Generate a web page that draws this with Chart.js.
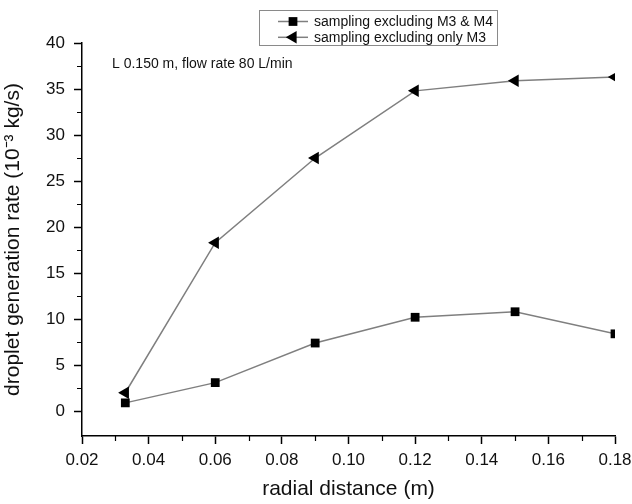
<!DOCTYPE html>
<html lang="en">
<head>
  <meta charset="UTF-8" />
  <title>Droplet generation rate vs radial distance</title>
  <style>
    html, body {
      margin: 0;
      padding: 0;
      background: #fff;
    }
    .chart-box {
      position: relative;
      width: 632px;
      height: 504px;
    }
  </style>
</head>
<body>
  <div class="chart-box">
    <canvas id="rateChart"></canvas>
  </div>

  <script src="https://cdn.jsdelivr.net/npm/chart.js"></script>
  <script>
    // radial positions (m) and generation rates (10^-3 kg/s)
    const radialDistance = [0.033, 0.06, 0.09, 0.12, 0.15, 0.18];
    const rateExclM3M4 = [0.9, 3.1, 7.4, 10.2, 10.8, 8.4];
    const rateExclOnlyM3 = [2.0, 18.3, 27.5, 34.8, 35.9, 36.3];
    const seriesNames = ['sampling excluding M3 & M4', 'sampling excluding only M3'];

    // axis ticks
    const xTicks = [0.02, 0.04, 0.06, 0.08, 0.10, 0.12, 0.14, 0.16, 0.18];
    const xMinorTicks = [0.03, 0.05, 0.07, 0.09, 0.11, 0.13, 0.15, 0.17];
    const yTicks = [0, 5, 10, 15, 20, 25, 30, 35, 40];
    const yMinorTicks = [2.5, 7.5, 12.5, 17.5, 22.5, 27.5, 32.5, 37.5];

    const noteText = 'L 0.150 m, flow rate 80 L/min';
    const FONT = "'Liberation Sans', Arial, sans-serif";

    const toPoints = ys => ys.map((y, i) => ({ x: radialDistance[i], y }));

    // short outward minor ticks on both axes
    const minorTicks = {
      id: 'minorTicks',
      afterDraw(chart) {
        const { ctx, chartArea, scales: { x, y } } = chart;
        ctx.save();
        ctx.strokeStyle = '#000';
        ctx.lineWidth = 1.2;
        ctx.beginPath();
        xMinorTicks.forEach(v => {
          const px = Math.round(x.getPixelForValue(v)) + 0.5;
          ctx.moveTo(px, chartArea.bottom);
          ctx.lineTo(px, chartArea.bottom + 5);
        });
        yMinorTicks.forEach(v => {
          const py = Math.round(y.getPixelForValue(v)) + 0.5;
          ctx.moveTo(chartArea.left, py);
          ctx.lineTo(chartArea.left - 5, py);
        });
        ctx.stroke();
        ctx.restore();
      }
    };

    // condition note + boxed legend in the upper part of the plot
    const notesAndLegend = {
      id: 'notesAndLegend',
      afterDraw(chart) {
        const { ctx, chartArea } = chart;
        ctx.save();
        ctx.font = '14px ' + FONT;
        ctx.fillStyle = '#111';
        ctx.textBaseline = 'middle';
        ctx.textAlign = 'left';
        ctx.fillText(noteText, chartArea.left + 30, chartArea.top + 21);

        // legend frame
        const bx = 259, by = 10, bw = 238, bh = 35;
        ctx.strokeStyle = '#8a8a8a';
        ctx.lineWidth = 1;
        ctx.strokeRect(bx + 0.5, by + 0.5, bw, bh);

        chart.data.datasets.forEach((ds, i) => {
          const rowY = 21.5 + i * 15.8;
          ctx.strokeStyle = ds.borderColor;
          ctx.lineWidth = ds.borderWidth;
          ctx.beginPath();
          ctx.moveTo(278, rowY);
          ctx.lineTo(308, rowY);
          ctx.stroke();
          ctx.fillStyle = '#000';
          ctx.strokeStyle = '#000';
          Chart.helpers.drawPoint(ctx, {
            pointStyle: ds.pointStyle,
            radius: ds.pointRadius,
            rotation: ds.pointRotation || 0,
            borderWidth: 0
          }, 293, rowY);
          ctx.fillStyle = '#111';
          ctx.fillText(ds.label, 314, rowY + 0.5);
        });
        ctx.restore();
      }
    };

    const ctx = document.getElementById('rateChart').getContext('2d');

    new Chart(ctx, {
      type: 'line',
      data: {
        datasets: [{
          label: seriesNames[0],
          data: toPoints(rateExclM3M4),
          borderColor: '#7f7f7f',
          borderWidth: 1.5,
          pointStyle: 'rect',
          pointRadius: 6.2,
          pointBackgroundColor: '#000',
          pointBorderColor: '#000',
          pointBorderWidth: 0,
          tension: 0
        }, {
          label: seriesNames[1],
          data: toPoints(rateExclOnlyM3),
          borderColor: '#7f7f7f',
          borderWidth: 1.5,
          pointStyle: 'triangle',
          pointRotation: -90,
          pointRadius: 7.2,
          pointBackgroundColor: '#000',
          pointBorderColor: '#000',
          pointBorderWidth: 0,
          tension: 0
        }]
      },
      options: {
        responsive: true,
        maintainAspectRatio: false,
        animation: false,
        layout: {
          padding: { top: 43, right: 17, left: 0, bottom: 0 }
        },
        plugins: {
          legend: { display: false },
          tooltip: { enabled: false }
        },
        scales: {
          x: {
            type: 'linear',
            min: 0.02,
            max: 0.18,
            afterBuildTicks: s => { s.ticks = xTicks.map(v => ({ value: v })); },
            afterFit: s => {
              s.height = 68;
              s.paddingLeft = 0;
              s.paddingRight = 0;
            },
            ticks: {
              autoSkip: false,
              maxRotation: 0,
              padding: 6,
              color: '#111',
              font: { family: FONT, size: 17 },
              callback: v => v.toFixed(2)
            },
            grid: {
              drawOnChartArea: false,
              tickLength: 8,
              tickColor: '#000',
              tickWidth: 1.5
            },
            border: { color: '#000', width: 1.5 },
            title: {
              display: true,
              text: 'radial distance (m)',
              color: '#111',
              font: { family: FONT, size: 21 },
              padding: { top: 0, bottom: 2 }
            }
          },
          y: {
            type: 'linear',
            min: -2.7,
            max: 40,
            afterBuildTicks: s => { s.ticks = yTicks.map(v => ({ value: v })); },
            afterFit: s => {
              s.width = 82;
              s.paddingTop = 0;
              s.paddingBottom = 0;
            },
            ticks: {
              padding: 9,
              color: '#111',
              font: { family: FONT, size: 17 }
            },
            grid: {
              drawOnChartArea: false,
              tickLength: 8,
              tickColor: '#000',
              tickWidth: 1.5
            },
            border: { color: '#000', width: 1.5 },
            title: {
              display: true,
              text: 'droplet generation rate (10\u207B\u00B3 kg/s)',
              color: '#111',
              font: { family: FONT, size: 21 },
              padding: { top: 1, bottom: 0 }
            }
          }
        }
      },
      plugins: [minorTicks, notesAndLegend]
    });
  </script>
</body>
</html>
